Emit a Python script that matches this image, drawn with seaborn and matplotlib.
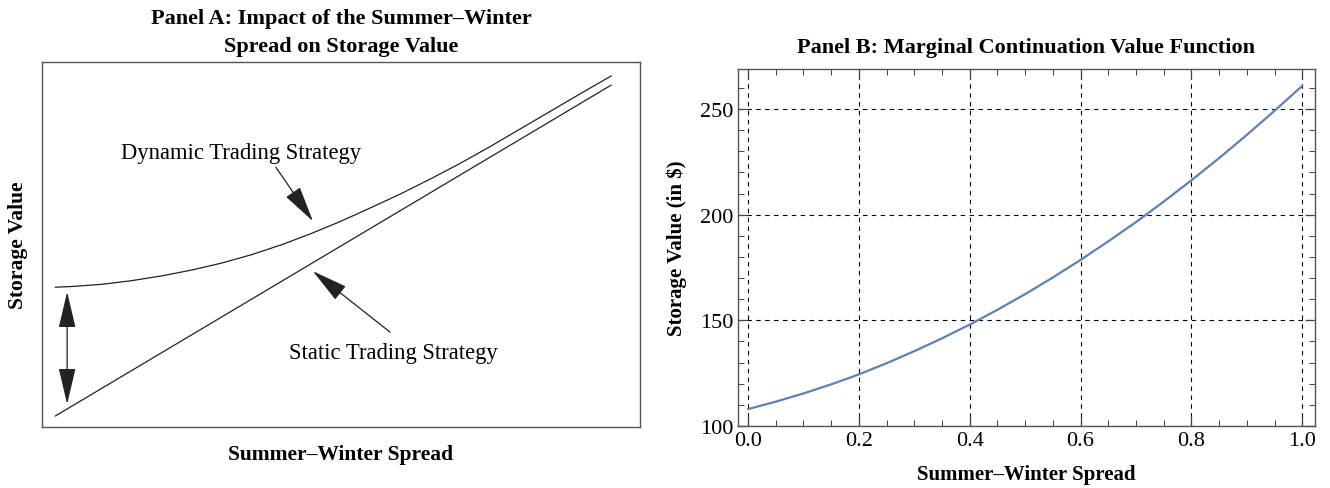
import matplotlib
matplotlib.use("Agg")
import matplotlib.pyplot as plt
import seaborn as sns
import pandas as pd
from matplotlib.ticker import MultipleLocator

# Panel A (schematic, arbitrary 0-100 units)
dyn_x = [2.2, 5, 10, 15, 20, 25, 30, 35, 40, 45, 50, 55, 60, 65, 70, 75, 80, 85, 90, 95.2]
dyn_y = [38.3, 38.5, 39.1, 40.1, 41.4, 43.0, 44.9, 47.2, 49.9, 53.0, 56.4, 60.1, 63.9,
         68.0, 72.3, 76.9, 81.7, 86.5, 91.3, 96.2]
static_x = [2.2, 95.2]
static_y = [3.0, 93.7]

# Panel B
spread = [0.00, 0.05, 0.10, 0.15, 0.20, 0.25, 0.30, 0.35, 0.40, 0.45, 0.50,
          0.55, 0.60, 0.65, 0.70, 0.75, 0.80, 0.85, 0.90, 0.95, 1.00]
storage = [108.0, 111.5, 115.4, 119.7, 124.4, 129.7, 135.4, 141.5, 148.0, 155.0, 162.4,
           170.3, 178.6, 187.4, 196.5, 206.2, 216.3, 226.8, 237.8, 249.2, 261.0]

sns.set_theme(style="white")
plt.rcParams['font.family'] = ['Liberation Serif', 'DejaVu Serif']
plt.rcParams['mathtext.fontset'] = 'stix'
plt.rcParams['text.color'] = 'black'
plt.rcParams['axes.labelcolor'] = 'black'
plt.rcParams['xtick.labelcolor'] = 'black'
plt.rcParams['ytick.labelcolor'] = 'black'

fig = plt.figure(figsize=(13.3, 4.89), dpi=100)
ax1 = fig.add_axes([0.0316, 0.1247, 0.4496, 0.7464])
ax2 = fig.add_axes([0.5549, 0.1268, 0.4338, 0.7301])

#1. Panel A
dfa = pd.DataFrame({'x': dyn_x, 'y': dyn_y})
dfs = pd.DataFrame({'x': static_x, 'y': static_y})
sns.lineplot(data=dfa, x='x', y='y', ax=ax1, color='#222222', linewidth=0.9)
sns.lineplot(data=dfs, x='x', y='y', ax=ax1, color='#222222', linewidth=0.9)
ax1.set_xlim(0, 100)
ax1.set_ylim(0, 100)
ax1.set_xticks([])
ax1.set_yticks([])
for s in ax1.spines.values():
    s.set_color('#555555')
    s.set_linewidth(1.0)
ax1.set_title('Panel A: Impact of the Summer\u2013Winter\nSpread on Storage Value',
              fontsize=16, fontweight='bold', pad=8, linespacing=1.55)
ax1.set_xlabel('Summer\u2013Winter Spread', fontsize=15.5, fontweight='bold', labelpad=12)
ax1.set_ylabel('Storage Value', fontsize=15.5, fontweight='bold', labelpad=10)

arrow = dict(arrowstyle='-|>,head_length=1.9,head_width=0.45', color='#222222', lw=0.9,
             shrinkA=0, shrinkB=0)
ax1.annotate('', xy=(45.3, 56.4), xytext=(39.1, 71.2), arrowprops=arrow)
ax1.annotate('', xy=(45.3, 42.7), xytext=(58.2, 26.0), arrowprops=arrow)
ax1.text(33.3, 75.1, 'Dynamic Trading Strategy', fontsize=16.3, ha='center', va='center')
ax1.text(58.7, 20.5, 'Static Trading Strategy', fontsize=16.3, ha='center', va='center')
darrow = dict(arrowstyle='<|-|>,head_length=1.9,head_width=0.45', color='#222222', lw=0.9,
              shrinkA=0, shrinkB=0)
ax1.annotate('', xy=(4.2, 37.0), xytext=(4.2, 6.3), arrowprops=darrow)

#2. Panel B
dfb = pd.DataFrame({'spread': spread, 'storage': storage})
sns.lineplot(data=dfb, x='spread', y='storage', ax=ax2, color='#5e81b5', linewidth=1.6)
ax2.set_xlim(-0.018, 1.023)
ax2.set_ylim(100, 269)
ax2.xaxis.set_major_locator(MultipleLocator(0.2))
ax2.xaxis.set_minor_locator(MultipleLocator(0.05))
ax2.yaxis.set_major_locator(MultipleLocator(50))
ax2.yaxis.set_minor_locator(MultipleLocator(10))
ax2.set_xticks([0.0, 0.2, 0.4, 0.6, 0.8, 1.0])
ax2.set_xticklabels(['0.0', '0.2', '0.4', '0.6', '0.8', '1.0'])
ax2.tick_params(which='both', direction='in', top=True, right=True, bottom=True, left=True,
                color='#444444', labelsize=16)
ax2.tick_params(which='major', length=7, width=0.9)
ax2.tick_params(which='minor', length=4, width=0.7)
ax2.grid(True, which='major', color='black', linestyle=(0, (4, 4)), linewidth=0.8)
for s in ax2.spines.values():
    s.set_color('#555555')
    s.set_linewidth(1.0)
ax2.set_title('Panel B: Marginal Continuation Value Function', fontsize=16,
              fontweight='bold', pad=12)
ax2.set_xlabel('Summer\u2013Winter Spread', fontsize=15, fontweight='bold', labelpad=10)
ax2.set_ylabel('Storage Value (in \\$)', fontsize=15, fontweight='bold', labelpad=9)

plt.savefig('out.png', dpi=100)
